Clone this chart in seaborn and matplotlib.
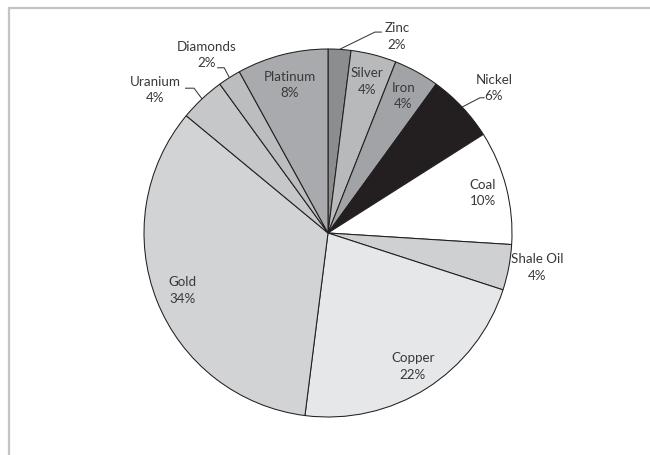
import numpy as np
import matplotlib
matplotlib.use("Agg")
import matplotlib.pyplot as plt
import seaborn as sns

# Share of production by commodity
categories = ["Zinc", "Silver", "Iron", "Nickel", "Coal", "Shale Oil",
              "Copper", "Gold", "Uranium", "Diamonds", "Platinum"]
shares = [2, 4, 4, 6, 10, 4, 22, 34, 4, 2, 8]
colors = ["#8c8d8f", "#b8b9bb", "#a2a3a6", "#231f20", "#ffffff", "#cfd0d2",
          "#e6e7e8", "#d2d3d5", "#c6c7c9", "#bcbdbf", "#a9aaad"]

# Labels drawn inside their wedge (fraction of radius)
inside = {"Silver": 0.85, "Iron": 0.85, "Coal": 0.87, "Copper": 0.86,
          "Gold": 0.85, "Platinum": 0.83}
# Labels outside the pie: text centre, leader elbow, leader end (radius units)
outside = {
    "Zinc":      ((0.375, 1.068), (0.255, 1.092), (0.293, 1.092)),
    "Nickel":    ((0.902, 0.788), (0.826, 0.735), (0.851, 0.735)),
    "Uranium":   ((-0.9375, 0.776), (-0.728, 0.787), (-0.777, 0.787)),
    "Diamonds":  ((-0.661, 0.967), (-0.564, 0.898), (-0.602, 0.898)),
    "Shale Oil": ((1.136, -0.1875), None, None),
}

sns.set_theme(style="white")
plt.rcParams["font.family"] = ["Lato", "DejaVu Sans"]

W, H = 650, 455
fig = plt.figure(figsize=(W / 100, H / 100), dpi=100)
ax = fig.add_axes([0, 0, 1, 1])

cx, cy, R = 328, 222, 184
wedges, _ = ax.pie(shares, colors=colors, startangle=90, counterclock=False,
                   radius=R, center=(cx, cy), frame=True,
                   wedgeprops=dict(edgecolor="#231f20", linewidth=0.75))

txt_color = "#383838"
fs = 9.6
for w, name, val in zip(wedges, categories, shares):
    label = f"{name}\n{val}%"
    mid = np.deg2rad((w.theta1 + w.theta2) / 2)
    if name in inside:
        f = inside[name]
        ax.text(cx + f * R * np.cos(mid), cy + f * R * np.sin(mid), label,
                ha="center", va="center", fontsize=fs, color=txt_color,
                linespacing=1.45)
    else:
        (tx, ty), elbow, end = outside[name]
        ax.text(cx + tx * R, cy + ty * R, label, ha="center", va="center",
                fontsize=fs, color=txt_color, linespacing=1.45)
        if elbow is not None:
            ex, ey = cx + R * np.cos(mid), cy + R * np.sin(mid)
            ax.plot([ex, cx + elbow[0] * R, cx + end[0] * R],
                    [ey, cy + elbow[1] * R, cy + end[1] * R],
                    color=txt_color, lw=0.75, solid_capstyle="butt")

# Light border along the top and left of the chart area
ax.plot([9, 9, W + 5], [-5, H - 8, H - 8], color="#c4c4c4", lw=1.6,
        solid_joinstyle="miter")

ax.set_xlim(0, W)
ax.set_ylim(0, H)
ax.set_aspect("equal")
ax.axis("off")

fig.savefig("out.png", dpi=100, facecolor="white")
